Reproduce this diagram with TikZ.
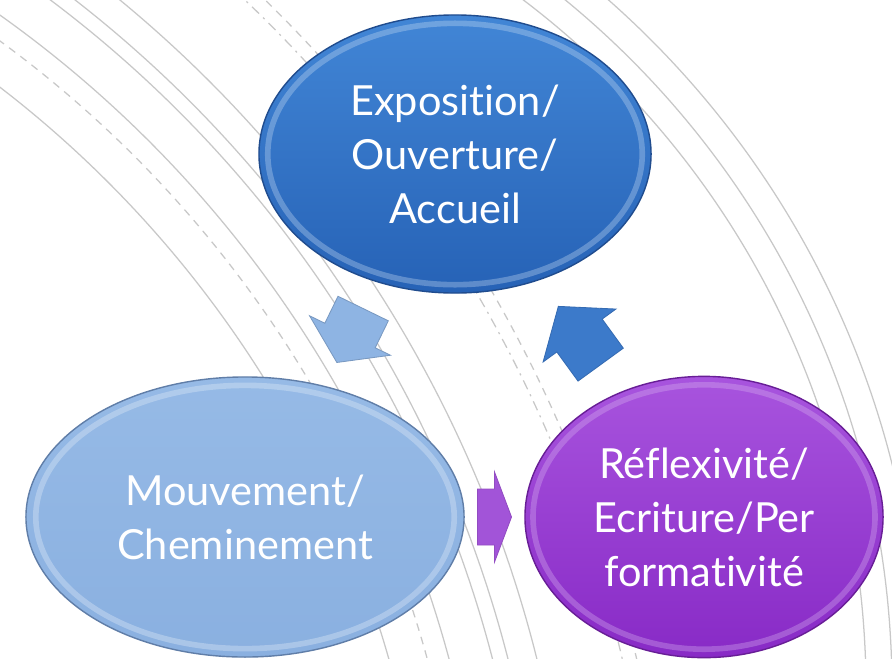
\documentclass[tikz,border=0pt]{standalone}
\usepackage{fontspec}
\setmainfont{Lato}[Ligatures=NoCommon]
\usepackage{xcolor}
\usetikzlibrary{shapes.geometric, calc}

\definecolor{guidegray}{RGB}{200,200,200}
\definecolor{expotop}{RGB}{66,134,214}
\definecolor{expobot}{RGB}{38,98,182}
\definecolor{expoedge}{RGB}{32,76,142}
\definecolor{mouvtop}{RGB}{150,186,230}
\definecolor{mouvbot}{RGB}{138,176,224}
\definecolor{mouvedge}{RGB}{96,126,168}
\definecolor{refltop}{RGB}{168,84,222}
\definecolor{reflbot}{RGB}{136,42,198}
\definecolor{refledge}{RGB}{104,30,150}
\definecolor{arrowlight}{RGB}{142,180,227}
\definecolor{arrowblue}{RGB}{60,122,202}
\definecolor{arrowpurple}{RGB}{162,84,216}

\begin{document}
\begin{tikzpicture}[x=0.025cm, y=-0.025cm,
    stage/.style={ellipse, draw=#1, line width=1pt, inner sep=0pt, text=white,
      align=center, font=\fontsize{29.5}{38.4}\selectfont},
    rim/.style={path picture={
      \draw[#1, line width=4pt, opacity=0.35]
        let \p1=(path picture bounding box.north east),
            \p2=(path picture bounding box.center) in
        (\p2) ellipse [x radius=0.955*\x1-0.955*\x2, y radius=0.94*\y1-0.94*\y2];}},
    guide/.style={draw=guidegray, line width=0.9pt},
    pics/blockarrow/.style={code={
      \filldraw[pic actions, line width=0.6pt]
        (-#1/2,-28) -- (0,-28) -- (0,-45) -- (#1/2,0) -- (0,45) -- (0,28) -- (-#1/2,28) -- cycle;
    }}]
  \useasboundingbox (0,0) rectangle (892,658);

  \begin{scope}
    \clip (0,0) rectangle (892,658);
    \foreach \r in {1103,1161,1203,1218,1246}
      \draw[guide] (-672,962) circle[radius=\r];
    \foreach \r in {1140,1343}
      \draw[guide, dash pattern=on 5.5pt off 4.5pt] (-672,962) circle[radius=\r];
    \draw[guide, dash pattern=on 7pt off 4pt on 1.5pt off 4pt] (-672,962) circle[radius=1329];
    \foreach \r in {866,892,920}
      \draw[guide] (0,690) circle[radius=\r];
  \end{scope}

  \node[stage=expoedge, top color=expotop, bottom color=expobot, rim=white!70!expotop,
    minimum width=9.8cm, minimum height=6.95cm] (expo) at (455,154)
    {Exposition/\\Ouverture/\\Accueil};
  \node[stage=mouvedge, top color=mouvtop, bottom color=mouvbot, rim=white!75!mouvtop,
    minimum width=10.95cm, minimum height=7cm] (mouv) at (245,517)
    {Mouvement/\\Cheminement};
  \node[stage=refledge, top color=refltop, bottom color=reflbot, rim=white!55!refltop,
    minimum width=8.95cm, minimum height=7.03cm] (refl) at (704,517)
    {Réflexivité/\\Ecriture/Per\\formativité};

  \pic[fill=arrowlight, draw=arrowlight!85!black, rotate=244] at ($(expo)!0.5!(mouv)$) {blockarrow=60};
  \pic[fill=arrowpurple, draw=arrowpurple!90!black] at ($(mouv.east)!0.5!(refl.west)$) {blockarrow=34};
  \pic[fill=arrowblue, draw=arrowblue!88!black, rotate=126] at ($(refl)!0.5!(expo)$) {blockarrow=72};
\end{tikzpicture}
\end{document}
